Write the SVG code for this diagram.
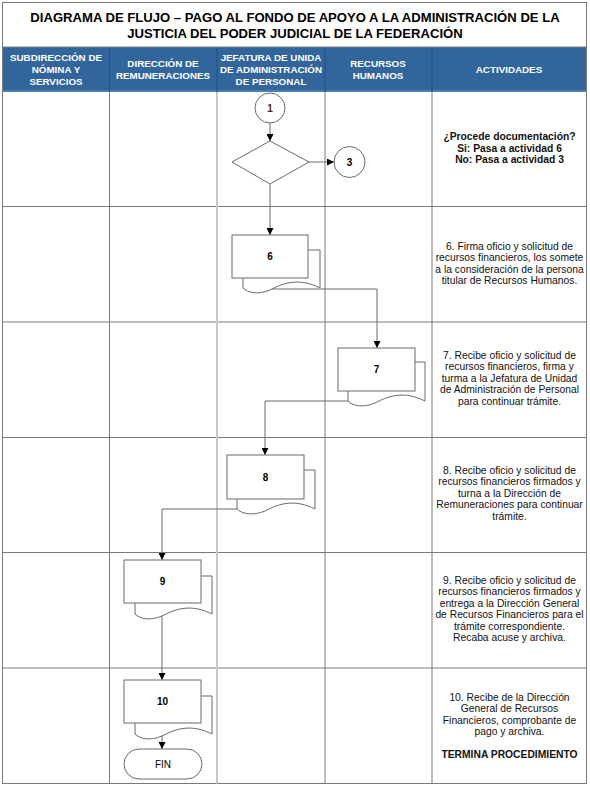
<svg xmlns="http://www.w3.org/2000/svg" width="590" height="790" viewBox="0 0 590 790">
<defs>
<style>
.grid{stroke:#7a7a7a;stroke-width:1;fill:none}
.light{stroke:#c8c8c8;stroke-width:2;fill:none}
.hdr{fill:#ffffff;font-family:"Liberation Sans",Arial,sans-serif;font-size:9.8px;font-weight:bold;text-anchor:middle}
.title{fill:#000;font-family:"Liberation Sans",Arial,sans-serif;font-size:13.1px;font-weight:bold;text-anchor:middle}
.act{fill:#111;font-family:"Liberation Sans",Arial,sans-serif;font-size:10.3px;text-anchor:middle}
.b{font-weight:bold}
.shape{fill:#fff;stroke:#6a6a6a;stroke-width:1}
.num{fill:#000;font-family:"Liberation Sans",Arial,sans-serif;font-size:10px;font-weight:bold;text-anchor:middle}
.conn{stroke:#6a6a6a;stroke-width:1;fill:none;marker-end:url(#arr)}
</style>
<marker id="arr" viewBox="0 0 10 10" refX="10" refY="5" markerWidth="7" markerHeight="7" markerUnits="userSpaceOnUse" orient="auto">
<path d="M0,0 L10,5 L0,10 z" fill="#000"/>
</marker>
</defs>
<rect x="0" y="0" width="590" height="790" fill="#fff"/>

<g id="title">
<text class="title" x="295" y="22">DIAGRAMA DE FLUJO – PAGO AL FONDO DE APOYO A LA ADMINISTRACIÓN DE LA</text>
<text class="title" x="295" y="37.5">JUSTICIA DEL PODER JUDICIAL DE LA FEDERACIÓN</text>
</g>

<g id="header">
<rect x="2.5" y="47" width="584" height="45" fill="#31659c"/>
<line x1="2.5" y1="91" x2="586.5" y2="91" stroke="#6f95c0" stroke-width="1"/>
<g stroke="#26507c" stroke-width="1">
<line x1="109.5" y1="47" x2="109.5" y2="92"/>
<line x1="217" y1="47" x2="217" y2="92"/>
<line x1="325" y1="47" x2="325" y2="92"/>
<line x1="432" y1="47" x2="432" y2="92"/>
</g>
<text class="hdr" x="56" y="61">SUBDIRECCIÓN DE</text>
<text class="hdr" x="56" y="73">NÓMINA Y</text>
<text class="hdr" x="56" y="85">SERVICIOS</text>
<text class="hdr" x="163" y="67">DIRECCIÓN DE</text>
<text class="hdr" x="163" y="79">REMUNERACIONES</text>
<text class="hdr" x="271" y="61">JEFATURA DE UNIDA</text>
<text class="hdr" x="271" y="73">DE ADMINISTRACIÓN</text>
<text class="hdr" x="271" y="85">DE PERSONAL</text>
<text class="hdr" x="378" y="67">RECURSOS</text>
<text class="hdr" x="378" y="79">HUMANOS</text>
<text class="hdr" x="509" y="73">ACTIVIDADES</text>
</g>

<g id="grid">
<rect class="grid" x="2.5" y="2.5" width="584" height="781"/>
<line class="grid" x1="2.5" y1="47" x2="586.5" y2="47"/>
<line class="grid" x1="2.5" y1="206.5" x2="586.5" y2="206.5"/>
<line class="grid" x1="2.5" y1="322" x2="586.5" y2="322"/>
<line class="grid" x1="2.5" y1="437.5" x2="586.5" y2="437.5"/>
<line class="grid" x1="2.5" y1="552.5" x2="586.5" y2="552.5"/>
<line class="grid" x1="2.5" y1="668" x2="586.5" y2="668"/>
<line class="grid" x1="109.5" y1="92" x2="109.5" y2="783.5"/>
<line class="light" x1="217" y1="92" x2="217" y2="783.5"/>
<line class="grid" x1="325" y1="92" x2="325" y2="783.5"/>
<line class="grid" x1="432" y1="92" x2="432" y2="783.5"/>
</g>

<g id="connectors">
<line class="conn" x1="270" y1="123" x2="270" y2="141"/>
<line class="conn" x1="309" y1="162" x2="334" y2="162"/>
<line class="conn" x1="270" y1="184" x2="270" y2="235"/>
<polyline class="conn" points="270,278 270,289 377,289 377,348"/>
<polyline class="conn" points="377,391 377,401 265,401 265,455"/>
<polyline class="conn" points="265,499 265,509 162,509 162,560"/>
<line class="conn" x1="162" y1="603" x2="162" y2="680"/>
<line class="conn" x1="162" y1="723" x2="162" y2="749"/>
</g>

<g id="n1">
<circle class="shape" cx="270" cy="108" r="15"/>
<text class="num" x="270" y="111.5" style="fill:#4d2600">1</text>
</g>
<g id="decision">
<polygon class="shape" points="270,141 309,162 270,184 232,162"/>
</g>
<g id="n3">
<circle class="shape" cx="349.5" cy="162" r="15.5"/>
<text class="num" x="349.5" y="165.5">3</text>
</g>

<g id="d6">
<path class="shape" d="M243,250 H320 V288 C300,278 285,282 270,290 C258,295 248,293 243,288 Z"/>
<rect class="shape" x="232" y="235" width="76" height="43"/>
<text class="num" x="270" y="260">6</text>
</g>
<g id="d7">
<path class="shape" d="M348,362 H425 V401 C405,391 390,395 375,403 C363,408 353,406 348,401 Z"/>
<rect class="shape" x="338" y="348" width="77" height="43"/>
<text class="num" x="376.5" y="373">7</text>
</g>
<g id="d8">
<path class="shape" d="M237,470 H315 V509 C295,499 280,503 265,511 C253,516 242,514 237,509 Z"/>
<rect class="shape" x="227" y="455" width="77" height="44"/>
<text class="num" x="265.5" y="480.5">8</text>
</g>
<g id="d9">
<path class="shape" d="M135,576 H212 V614 C192,604 177,608 162,616 C150,621 140,619 135,614 Z"/>
<rect class="shape" x="124" y="560" width="77" height="43"/>
<text class="num" x="162.5" y="585">9</text>
</g>
<g id="d10">
<path class="shape" d="M135,696 H212 V734 C192,724 177,728 162,736 C150,741 140,739 135,734 Z"/>
<rect class="shape" x="124" y="680" width="77" height="43"/>
<text class="num" x="162.5" y="705">10</text>
</g>
<g id="fin">
<rect class="shape" x="124" y="749" width="78" height="30" rx="15" ry="15"/>
<text x="163" y="767.5" style="font-family:'Liberation Sans',Arial,sans-serif;font-size:10px;text-anchor:middle;fill:#000">FIN</text>
</g>

<g id="activities">
<text class="act b" x="509.5" y="140">¿Procede documentación?</text>
<text class="act b" x="509.5" y="151.5">Si: Pasa a actividad 6</text>
<text class="act b" x="509.5" y="163">No: Pasa a actividad 3</text>

<text class="act" x="509.5" y="249.5">6. Firma oficio y solicitud de</text>
<text class="act" x="509.5" y="261">recursos financieros, los somete</text>
<text class="act" x="509.5" y="272.5">a la consideración de la persona</text>
<text class="act" x="509.5" y="284">titular de Recursos Humanos.</text>

<text class="act" x="509.5" y="358.5">7. Recibe oficio y solicitud de</text>
<text class="act" x="509.5" y="370">recursos financieros, firma y</text>
<text class="act" x="509.5" y="381.5">turma a la Jefatura de Unidad</text>
<text class="act" x="509.5" y="393">de Administración de Personal</text>
<text class="act" x="509.5" y="404.5">para continuar trámite.</text>

<text class="act" x="509.5" y="473.5">8. Recibe oficio y solicitud de</text>
<text class="act" x="509.5" y="485">recursos financieros firmados y</text>
<text class="act" x="509.5" y="496.5">turna a la Dirección de</text>
<text class="act" x="509.5" y="508">Remuneraciones para continuar</text>
<text class="act" x="509.5" y="519.5">trámite.</text>

<text class="act" x="509.5" y="583.5">9. Recibe oficio y solicitud de</text>
<text class="act" x="509.5" y="595">recursos financieros firmados y</text>
<text class="act" x="509.5" y="606.5">entrega a la Dirección General</text>
<text class="act" x="509.5" y="618">de Recursos Financieros para el</text>
<text class="act" x="509.5" y="629.5">trámite correspondiente.</text>
<text class="act" x="509.5" y="641">Recaba acuse y archiva.</text>

<text class="act" x="509.5" y="700.5">10. Recibe de la Dirección</text>
<text class="act" x="509.5" y="712">General de Recursos</text>
<text class="act" x="509.5" y="723.5">Financieros, comprobante de</text>
<text class="act" x="509.5" y="735">pago y archiva.</text>
<text class="act b" x="509.5" y="757.5">TERMINA PROCEDIMIENTO</text>
</g>
</svg>
